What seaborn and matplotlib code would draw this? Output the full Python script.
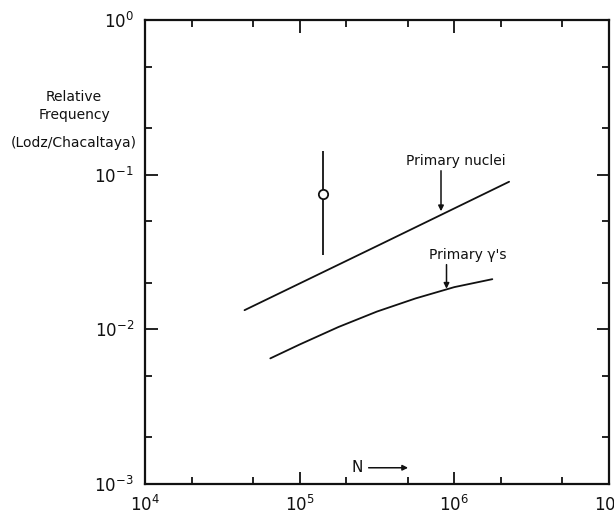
import matplotlib
matplotlib.use("Agg")
import matplotlib.pyplot as plt
import matplotlib.ticker as mticker
import numpy as np
import pandas as pd
import seaborn as sns

# --------------------------------------------------------------
# Data
# --------------------------------------------------------------
nuclei_N = [4.4e4, 3.4e5, 2.26e6]
nuclei_freq = [0.0133, 0.0358, 0.090]

gamma_N = [6.46e4, 1.0e5, 1.78e5, 3.16e5, 5.62e5, 1.0e6, 1.76e6]
gamma_freq = [0.00649, 0.00798, 0.01035, 0.01303, 0.01585, 0.01875, 0.0211]

point_N = [1.41e5]
point_freq = [0.0753]
point_low = [0.0303]
point_high = [0.143]

x_limits = [1e4, 1e7]
y_limits = [1e-3, 1e0]

# --------------------------------------------------------------
# Styling
# --------------------------------------------------------------
sns.set_style("ticks")
plt.rcParams["font.family"] = ["DejaVu Sans"]
BLACK = "#111111"

fig = plt.figure(figsize=(6.14, 5.14), dpi=100)
ax = fig.add_axes([145 / 614, 30 / 514, 464 / 614, 464 / 514])

nuclei = pd.DataFrame({"N": nuclei_N, "freq": nuclei_freq})
gamma = pd.DataFrame({"N": gamma_N, "freq": gamma_freq})
point = pd.DataFrame({"N": point_N, "freq": point_freq})

sns.lineplot(data=nuclei, x="N", y="freq", color=BLACK, linewidth=1.3, ax=ax)
sns.lineplot(data=gamma, x="N", y="freq", color=BLACK, linewidth=1.3, ax=ax)

# error bar + open circle
ax.vlines(point_N, point_low, point_high, color=BLACK, linewidth=1.3, zorder=3)
sns.scatterplot(data=point, x="N", y="freq", marker="o", s=45,
                facecolor="white", edgecolor=BLACK, linewidth=1.3, zorder=4, ax=ax)

ax.set_xscale("log")
ax.set_yscale("log")
ax.set_xlim(x_limits)
ax.set_ylim(y_limits)

ax.xaxis.set_major_locator(mticker.LogLocator(base=10, numticks=10))
ax.yaxis.set_major_locator(mticker.LogLocator(base=10, numticks=10))
ax.xaxis.set_minor_locator(mticker.LogLocator(base=10, subs=(2, 5), numticks=10))
ax.yaxis.set_minor_locator(mticker.LogLocator(base=10, subs=(2, 5), numticks=10))
ax.xaxis.set_minor_formatter(mticker.NullFormatter())
ax.yaxis.set_minor_formatter(mticker.NullFormatter())

for side in ["left", "right", "top", "bottom"]:
    ax.spines[side].set_visible(True)
    ax.spines[side].set_linewidth(1.6)
    ax.spines[side].set_color(BLACK)

ax.tick_params(which="both", direction="in", top=True, right=True,
               color=BLACK, width=1.3)
ax.tick_params(which="major", length=9, labelsize=12, labelcolor=BLACK)
ax.tick_params(which="minor", length=5)
ax.tick_params(axis="x", which="major", pad=8)
ax.tick_params(axis="y", which="major", pad=8)

ax.set_xlabel("")
ax.set_ylabel("")

# --------------------------------------------------------------
# Annotations
# --------------------------------------------------------------
ax.text(4.9e5, 0.123, "Primary nuclei", fontsize=10, color=BLACK,
        ha="left", va="center")
ax.annotate("", xy=(8.2e5, 0.058), xytext=(8.2e5, 0.106),
            arrowprops=dict(arrowstyle="-|>", color=BLACK, lw=1.1,
                            mutation_scale=8, shrinkA=0, shrinkB=0))

ax.text(6.9e5, 0.0303, "Primary γ's", fontsize=10, color=BLACK,
        ha="left", va="center")
ax.annotate("", xy=(8.9e5, 0.0183), xytext=(8.9e5, 0.0262),
            arrowprops=dict(arrowstyle="-|>", color=BLACK, lw=1.1,
                            mutation_scale=8, shrinkA=0, shrinkB=0))

ax.text(0.446, 0.035, "N", transform=ax.transAxes, fontsize=11,
        color=BLACK, ha="left", va="center")
ax.annotate("", xy=(0.567, 0.035), xytext=(0.482, 0.035),
            xycoords="axes fraction", textcoords="axes fraction",
            arrowprops=dict(arrowstyle="-|>", color=BLACK, lw=1.1,
                            mutation_scale=8, shrinkA=0, shrinkB=0))

# y label block in the top left
fig.text(74 / 614, 1 - 97 / 514, "Relative", fontsize=10, color=BLACK,
         ha="center", va="center")
fig.text(74 / 614, 1 - 115 / 514, "Frequency", fontsize=10, color=BLACK,
         ha="center", va="center")
fig.text(74 / 614, 1 - 143 / 514, "(Lodz/Chacaltaya)", fontsize=10,
         color=BLACK, ha="center", va="center")

fig.savefig("out.png", dpi=100)
